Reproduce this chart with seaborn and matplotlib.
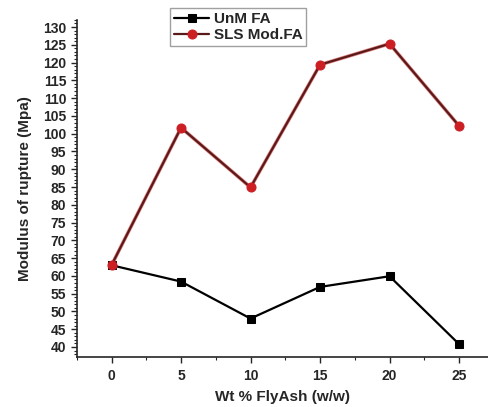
import pandas as pd
import matplotlib.pyplot as plt
import seaborn as sns
from matplotlib.ticker import MultipleLocator

flyash = [0, 5, 10, 15, 20, 25]
unm_fa = [63.0, 58.4, 48.0, 56.9, 59.9, 40.8]
sls_mod_fa = [63.0, 101.7, 84.9, 119.4, 125.3, 102.2]

df = pd.DataFrame({'flyash': flyash, 'UnM FA': unm_fa, 'SLS Mod.FA': sls_mod_fa})

sns.set_style("ticks")
plt.rcParams['font.family'] = ['Liberation Sans', 'DejaVu Sans']
plt.rcParams['font.weight'] = 'bold'

fig = plt.figure(figsize=(4.89, 4.07), dpi=100)
ax = fig.add_axes([0.157, 0.123, 0.85, 0.828])

sns.lineplot(x='flyash', y='UnM FA', data=df, ax=ax, color='black', marker='s',
             markersize=6, markeredgecolor='black', linewidth=1.6, label='UnM FA')
sns.lineplot(x='flyash', y='SLS Mod.FA', data=df, ax=ax, color='#5a1a1a', marker='o',
             markersize=6.5, markerfacecolor='#cc1f24', markeredgecolor='#cc1f24',
             linewidth=1.6, label='SLS Mod.FA')
# red halo on the SLS line
ax.plot(flyash, sls_mod_fa, color='#d03030', linewidth=2.6, zorder=1.9, alpha=0.6)

ax.set_xlim(-2.5, 27.4)
ax.set_ylim(37.2, 132)
ax.xaxis.set_major_locator(MultipleLocator(5))
ax.xaxis.set_minor_locator(MultipleLocator(2.5))
ax.yaxis.set_major_locator(MultipleLocator(5))
ax.yaxis.set_minor_locator(MultipleLocator(1))
ax.set_xticks([0, 5, 10, 15, 20, 25])
ax.tick_params(which='major', length=4, width=1, labelsize=10)
ax.tick_params(axis='x', which='major', pad=5)
ax.tick_params(which='minor', length=2, width=0.8)
for lab in ax.get_xticklabels() + ax.get_yticklabels():
    lab.set_fontweight('bold')

sns.despine(ax=ax)
ax.spines['left'].set_linewidth(1.2)
ax.spines['bottom'].set_linewidth(1.2)

ax.set_xlabel("Wt % FlyAsh (w/w)", fontsize=11, fontweight='bold', va='center')
ax.xaxis.set_label_coords(0.496, -0.119)
ax.set_ylabel("Modulus of rupture (Mpa)", fontsize=11, fontweight='bold', labelpad=8)

leg = ax.legend(loc='upper left', bbox_to_anchor=(0.225, 1.035), fontsize=11,
                frameon=True, fancybox=False, edgecolor='#888888',
                handlelength=2.3, handletextpad=0.3, borderpad=0.25,
                labelspacing=0.15, borderaxespad=0)
for t in leg.get_texts():
    t.set_fontweight('bold')

plt.savefig("out.png", dpi=100)
